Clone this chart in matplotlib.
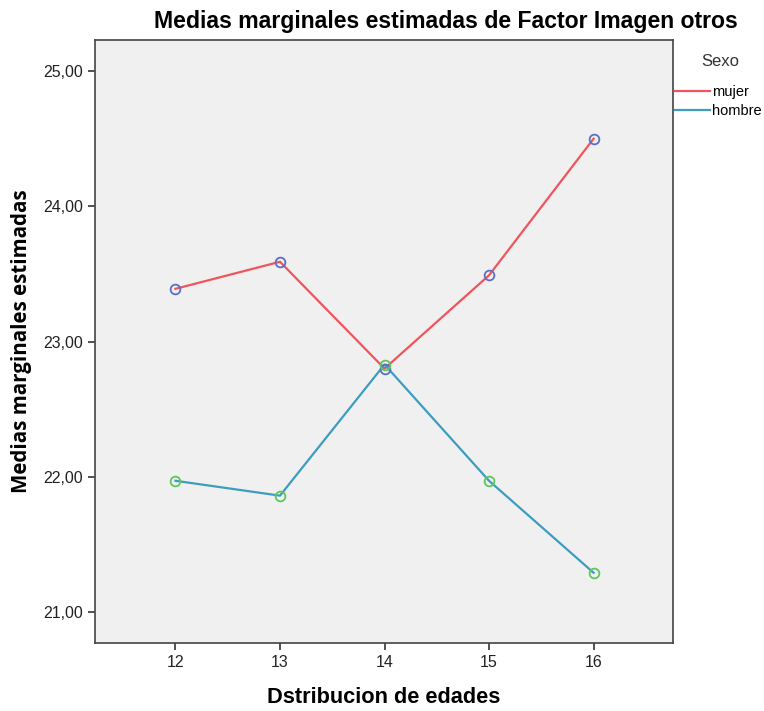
import matplotlib
matplotlib.use('Agg')
import matplotlib.pyplot as plt
from matplotlib.ticker import FuncFormatter

plt.rcParams['font.family'] = ['Liberation Sans', 'DejaVu Sans']

# Edades y medias marginales estimadas
edades = [12, 13, 14, 15, 16]
mujer = [23.39, 23.59, 22.80, 23.49, 24.50]
hombre = [21.97, 21.86, 22.83, 21.97, 21.29]
y_ticks = [21, 22, 23, 24, 25]

fig = plt.figure(figsize=(7.64, 7.11), dpi=100)
ax = fig.add_axes([0.1243, 0.0956, 0.7566, 0.8481])
ax.set_facecolor('#f0f0f0')

ax.plot(edades, mujer, color='#f0545c', lw=1.6, label='mujer', zorder=2)
ax.plot(edades, hombre, color='#3c9dbf', lw=1.6, label='hombre', zorder=2)
ax.plot(edades, mujer, 'o', ms=7, mfc='none', mec='#5a70c4', mew=1.3, zorder=3)
ax.plot(edades, hombre, 'o', ms=7, mfc='none', mec='#5cc85c', mew=1.3, zorder=3)

ax.set_xlim(11.23, 16.76)
ax.set_ylim(20.77, 25.23)
ax.set_xticks(edades)
ax.set_yticks(y_ticks)
ax.yaxis.set_major_formatter(FuncFormatter(lambda v, p: f"{v:.2f}".replace('.', ',')))
ax.tick_params(direction='out', length=5, width=1.2, color='#333333', labelsize=11.5, labelcolor='#222222')
for s in ax.spines.values():
    s.set_color('#444444')
    s.set_linewidth(1.2)

fig.text(0.584, 0.970, 'Medias marginales estimadas de Factor Imagen otros', fontsize=16.6,
         fontweight='bold', ha='center', va='center')
ax.set_xlabel('Dstribucion de edades', fontsize=15.7, fontweight='bold', labelpad=12)
ax.set_ylabel('Medias marginales estimadas', fontsize=14.8, fontweight='bold', labelpad=8,
              family=['Open Sans', 'DejaVu Sans'])

# leyenda fuera del area del grafico
fig.text(0.943, 0.914, 'Sexo', fontsize=12, color='#333333', ha='center', va='center')
leg = fig.legend(loc='upper left', bbox_to_anchor=(0.884, 0.881), frameon=False,
                 fontsize=10.5, handlelength=2.4, handletextpad=0.1,
                 labelspacing=0.35, borderaxespad=0.0, borderpad=0.0)

fig.savefig('out.png', dpi=100)
